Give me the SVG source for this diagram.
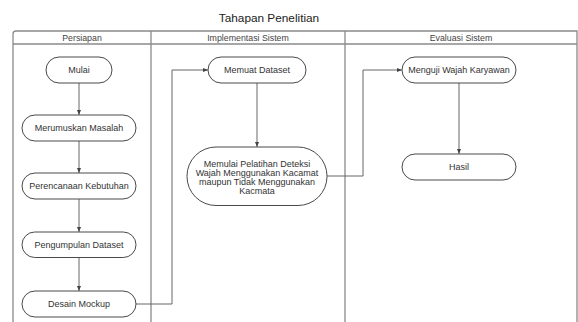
<svg xmlns="http://www.w3.org/2000/svg" width="578" height="322" viewBox="0 0 578 322">
<defs>
<style>
.lane{fill:none;stroke:#8a8a8a;stroke-width:1.3}
.node rect{fill:#fff;stroke:#4a4a4a;stroke-width:1}
.lbl{font-family:"Liberation Sans",Arial,sans-serif;font-size:9px;fill:#333;text-anchor:middle}
.hdr{font-family:"Liberation Sans",Arial,sans-serif;font-size:8.8px;fill:#444;text-anchor:middle}
.title{font-family:"Liberation Sans",Arial,sans-serif;font-size:11.8px;fill:#222;text-anchor:middle}
.conn path{fill:none;stroke:#666;stroke-width:1}
</style>
<marker id="arr" viewBox="0 0 10 10" refX="10" refY="5" markerWidth="5" markerHeight="5" orient="auto" markerUnits="userSpaceOnUse">
<path d="M0,1 L10,5 L0,9 Z" fill="#444"/>
</marker>
</defs>
<rect width="578" height="322" fill="#fff"/>
<text class="title" x="269" y="21.5">Tahapan Penelitian</text>
<g id="pool">
<path class="lane" d="M13,324 V34 Q13,31 16,31 H577 V324"/>
<path class="lane" d="M13,44 H577 M151,31 V324 M345,31 V324"/>
<text class="hdr" x="82" y="40.5">Persiapan</text>
<text class="hdr" x="248" y="40.5">Implementasi Sistem</text>
<text class="hdr" x="461" y="40.5">Evaluasi Sistem</text>
</g>
<g id="connectors" class="conn">
<path d="M79,83 V115" marker-end="url(#arr)"/>
<path d="M79,141 V173" marker-end="url(#arr)"/>
<path d="M79,199 V232" marker-end="url(#arr)"/>
<path d="M79,257 V291" marker-end="url(#arr)"/>
<path d="M136,304 H172 V70 H208" marker-end="url(#arr)"/>
<path d="M257,83 V147" marker-end="url(#arr)"/>
<path d="M327,176 H363 V70 H402" marker-end="url(#arr)"/>
<path d="M459,83 V154" marker-end="url(#arr)"/>
</g>
<g id="mulai" class="node"><rect x="46" y="57" width="66" height="26" rx="13"/><text class="lbl" x="79" y="73.2">Mulai</text></g>
<g id="merumuskan" class="node"><rect x="22" y="115" width="114" height="26" rx="13"/><text class="lbl" x="79" y="131.2">Merumuskan Masalah</text></g>
<g id="perencanaan" class="node"><rect x="22" y="173" width="114" height="26" rx="13"/><text class="lbl" x="79" y="189.2">Perencanaan Kebutuhan</text></g>
<g id="pengumpulan" class="node"><rect x="22" y="232" width="114" height="25.5" rx="12.75"/><text class="lbl" x="79" y="248">Pengumpulan Dataset</text></g>
<g id="desain" class="node"><rect x="22" y="291" width="114" height="26" rx="13"/><text class="lbl" x="79" y="307.2">Desain Mockup</text></g>
<g id="memuat" class="node"><rect x="208" y="57" width="98" height="26" rx="13"/><text class="lbl" x="257" y="73.2">Memuat Dataset</text></g>
<g id="memulai" class="node"><rect x="187" y="147" width="140" height="58.5" rx="29"/>
<text class="lbl" x="257" y="167.3">Memulai Pelatihan Deteksi</text>
<text class="lbl" x="257" y="176.2">Wajah Menggunakan Kacamat</text>
<text class="lbl" x="257" y="185.1">maupun Tidak Menggunakan</text>
<text class="lbl" x="257" y="194">Kacmata</text></g>
<g id="menguji" class="node"><rect x="402" y="57" width="114" height="26" rx="13"/><text class="lbl" x="459" y="73.2">Menguji Wajah Karyawan</text></g>
<g id="hasil" class="node"><rect x="402" y="154" width="114" height="26" rx="13"/><text class="lbl" x="459" y="170.2">Hasil</text></g>
</svg>
